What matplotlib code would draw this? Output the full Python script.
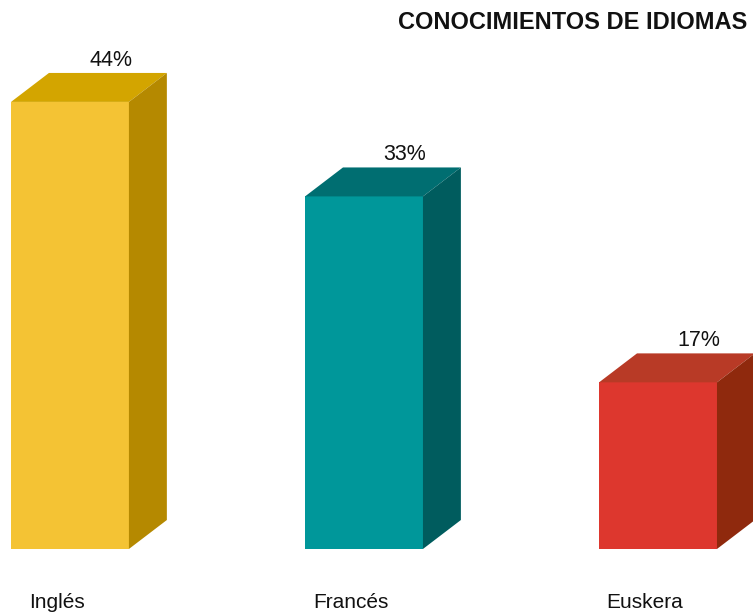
import matplotlib
matplotlib.use("Agg")
import matplotlib.pyplot as plt
from matplotlib.patches import Polygon

# data
categories = ["Inglés", "Francés", "Euskera"]
heights = [44, 34.7, 16.4]          # bar heights as drawn (percent)
value_labels = ["44%", "33%", "17%"]
front_colors = ["#F4C334", "#00979A", "#DD372E"]
top_colors = ["#D3A500", "#006E71", "#B83A26"]
side_colors = ["#B58900", "#005C5E", "#8F290D"]

plt.rcParams['font.family'] = ['Liberation Sans', 'DejaVu Sans']

fig = plt.figure(figsize=(7.53, 6.14), dpi=100)
ax = fig.add_axes([0, 0, 1, 1])
ax.set_xlim(-0.238, 2.323)
ax.set_ylim(-6.4, 54.03)
ax.axis('off')

width = 0.401
dx = 0.129   # depth offset in x
dy = 2.85    # depth offset in y

x = list(range(len(categories)))
ax.bar(x, heights, width=width, color=front_colors, linewidth=0, zorder=2)

for xi, h, tc, sc, lab, cat in zip(x, heights, top_colors, side_colors,
                                   value_labels, categories):
    l, r = xi - width / 2, xi + width / 2
    top = Polygon([(l, h), (r, h), (r + dx, h + dy), (l + dx, h + dy)],
                  closed=True, facecolor=tc, edgecolor='none', zorder=2)
    side = Polygon([(r, 0), (r + dx, dy), (r + dx, h + dy), (r, h)],
                   closed=True, facecolor=sc, edgecolor='none', zorder=2)
    ax.add_patch(top)
    ax.add_patch(side)
    ax.text(xi + 0.139, h + dy + 0.7, lab, ha='center', va='baseline',
            fontsize=15.5, color='#111111')
    ax.text(xi - 0.045, -5.8, cat, ha='center', va='baseline',
            fontsize=15, color='#111111')

fig.text(747 / 753, 1 - 29 / 614, "CONOCIMIENTOS DE IDIOMAS", ha='right',
         va='baseline', fontsize=17, fontweight='bold', color='#111111')

fig.savefig("out.png", dpi=100)
